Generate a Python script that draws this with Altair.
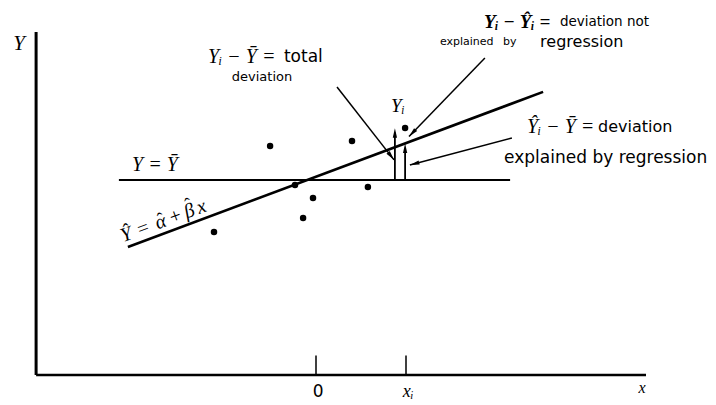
import math
import altair as alt
import pandas as pd

# Sample observations (x, Y)
obs_x = [-3.4, -1.53, -0.7, -0.43, -0.1, 1.2, 1.73, 2.97]
obs_y = [4.77, 7.63, 6.33, 5.23, 5.9, 7.8, 6.27, 8.23]

# Fitted quantities
y_bar = 6.5
alpha_hat = 6.61
beta_hat = 0.3735
x_i = 3.0
fit_span = [-6.27, 7.57]
mean_span = [-6.57, 6.47]

# Coordinate frame
axis_x_span = [-9.33, 11.0]
axis_y_span = [0.0, 11.43]
tick_x = [0.0, x_i]
tick_len = 0.65

# Deviation arrows near x_i
total_arrow_x = 2.63
explained_arrow_x = 2.97

# Leader lines from the captions to the deviations
leader_from = [(0.7, 9.6), (5.63, 10.57), (6.53, 7.9)]
leader_to = [(2.6, 7.17), (3.1, 7.95), (3.13, 7.0)]

# Captions: (text, x, y)
math_labels = [
    ("Yᵢ − Ȳ =", -3.6, 10.6),
    ("Ŷᵢ − Ȳ =", 7.03, 8.27),
    ("Y = Ȳ", -6.13, 7.0),
]
bold_math_labels = [("Yᵢ − Ŷᵢ =", 5.6, 11.77)]
word_labels = [
    ("total", -1.07, 10.6, 17),
    ("deviation not", 8.13, 11.77, 13.5),
    ("explained", 4.13, 11.1, 11),
    ("by", 6.23, 11.1, 11),
    ("regression", 7.47, 11.1, 16),
    ("deviation", 9.4, 8.27, 16),
    ("explained by regression", 6.27, 7.23, 17),
]
centered_words = [("deviation", -1.8, 9.93, 13), ("0", 0.07, -0.57, 17)]
centered_math = [
    ("Y", -9.9, 11.03, 21),
    ("Yᵢ", 2.73, 8.97, 19),
    ("xᵢ", 3.07, -0.57, 18),
    ("x", 10.87, -0.43, 16),
]

# Fitted-line caption, set glyph by glyph along the line
fit_glyphs = ["Ŷ", "=", "α", "+", "β", "x"]
fit_glyph_pos = [-1.37, -0.78, -0.15, 0.37, 0.87, 1.3]   # along the line
fit_hat_pos = [(-0.1, 0.06), (0.93, 0.2)]                 # (along, above) for α̂, β̂
fit_anchor_x = -4.9
fit_lift = 0.4

SERIF = "Liberation Serif, DejaVu Serif, serif"
SANS = "DejaVu Sans, sans-serif"

X = alt.Scale(domain=[-316 / 30, 400 / 30], nice=False, zero=False)
Y = alt.Scale(domain=[-1, 12.5], nice=False, zero=False)


def yhat(x):
    return alpha_hat + beta_hat * x


segments = [
    (axis_x_span[0], axis_y_span[0], axis_x_span[0], axis_y_span[1], 3.0),
    (axis_x_span[0], 0.0, axis_x_span[1], 0.0, 2.4),
    (mean_span[0], y_bar, mean_span[1], y_bar, 2.2),
    (fit_span[0], yhat(fit_span[0]), fit_span[1], yhat(fit_span[1]), 2.6),
]
for tx in tick_x:
    segments.append((tx, 0.0, tx, tick_len, 1.5))
segments.append((total_arrow_x, y_bar, total_arrow_x, obs_y[-1] - 0.15, 1.8))
segments.append((explained_arrow_x, y_bar, explained_arrow_x, yhat(explained_arrow_x) - 0.15, 1.8))
for (x0, y0), (x1, y1) in zip(leader_from, leader_to):
    segments.append((x0, y0, x1, y1, 1.5))

seg = pd.DataFrame(segments, columns=["x", "y", "x2", "y2", "w"])

lines = alt.Chart(seg).mark_rule(color="black", strokeCap="butt").encode(
    x=alt.X("x:Q", scale=X, axis=None),
    y=alt.Y("y:Q", scale=Y, axis=None),
    x2="x2:Q",
    y2="y2:Q",
    strokeWidth=alt.StrokeWidth("w:Q", scale=None),
)

# Arrowheads: slim heads whose tip sits at the end of each arrow
heads = []
ends = [((total_arrow_x, y_bar), (total_arrow_x, obs_y[-1])),
        ((explained_arrow_x, y_bar), (explained_arrow_x, yhat(explained_arrow_x)))]
ends += list(zip(leader_from, leader_to))
for (x0, y0), (x1, y1) in ends:
    dx, dy = x1 - x0, y1 - y0
    n = math.hypot(dx, dy)
    ang = math.degrees(math.atan2(dx, dy)) % 360
    heads.append((x1 - dx / n * 0.16, y1 - dy / n * 0.16, ang))
head_df = pd.DataFrame(heads, columns=["x", "y", "a"])

arrowheads = alt.Chart(head_df).mark_point(
    shape="M-0.45,1L0,-1L0.45,1Z", filled=True, color="black", size=90, opacity=1, strokeWidth=0
).encode(
    x=alt.X("x:Q", scale=X), y=alt.Y("y:Q", scale=Y), angle=alt.Angle("a:Q", scale=None)
)

obs = pd.DataFrame({"x": obs_x, "y": obs_y})
dots = alt.Chart(obs).mark_circle(color="black", size=42, opacity=1).encode(
    x=alt.X("x:Q", scale=X), y=alt.Y("y:Q", scale=Y)
)


def text_layer(rows, cols, **kw):
    df = pd.DataFrame(rows, columns=cols)
    enc = dict(x=alt.X("x:Q", scale=X), y=alt.Y("y:Q", scale=Y), text="t:N")
    if "s" in cols:
        enc["size"] = alt.Size("s:Q", scale=None)
    return alt.Chart(df).mark_text(color="black", baseline="middle", **kw).encode(**enc)


t_math = text_layer(math_labels, ["t", "x", "y"], font=SERIF, fontStyle="italic",
                    fontSize=20, align="left")
t_bold = text_layer(bold_math_labels, ["t", "x", "y"], font=SERIF, fontStyle="italic",
                    fontWeight="bold", fontSize=19, align="left")
t_words = text_layer(word_labels, ["t", "x", "y", "s"], font=SANS, align="left")
t_cwords = text_layer(centered_words, ["t", "x", "y", "s"], font=SANS, align="center")
t_cmath = text_layer(centered_math, ["t", "x", "y", "s"], font=SERIF, fontStyle="italic",
                     align="center")

# Caption of the fitted line, rotated to the line's slope
theta = math.atan(beta_hat)
ux, uy = math.cos(theta), math.sin(theta)
nx, ny = -uy, ux
ax0, ay0 = fit_anchor_x + nx * fit_lift, yhat(fit_anchor_x) + ny * fit_lift
fit_rows = [(g, ax0 + ux * s, ay0 + uy * s) for g, s in zip(fit_glyphs, fit_glyph_pos)]
hat_rows = [("ˆ", ax0 + ux * s + nx * h, ay0 + uy * s + ny * h) for s, h in fit_hat_pos]
rot = 360 - math.degrees(theta)
t_fit = text_layer(fit_rows, ["t", "x", "y"], font=SERIF, fontStyle="italic",
                   fontSize=20, align="center", angle=rot)
t_hats = text_layer(hat_rows, ["t", "x", "y"], font=SERIF, fontSize=18,
                    align="center", angle=rot)

chart = alt.layer(lines, arrowheads, dots, t_math, t_bold, t_words, t_cwords, t_cmath,
                  t_fit, t_hats).properties(
    width=716, height=405, padding=0, autosize=alt.AutoSizeParams(type="none"),
    background="white",
).configure_view(stroke=None)

chart.save("out.html", embed_options={"renderer": "svg", "actions": False})
